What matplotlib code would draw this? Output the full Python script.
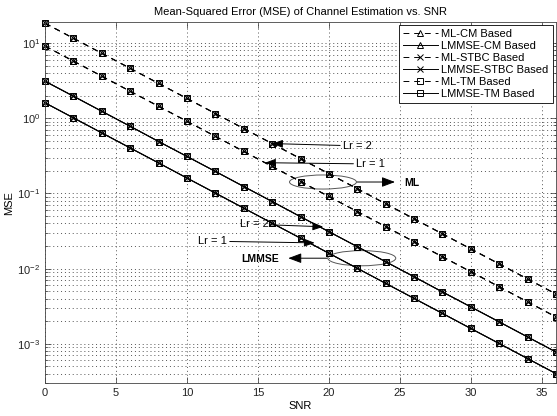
import matplotlib
matplotlib.use("Agg")
import matplotlib.pyplot as plt
from matplotlib.patches import Ellipse
from matplotlib.ticker import LogLocator, NullFormatter, LogFormatterMathtext

plt.rcParams['font.family'] = ['Liberation Sans', 'DejaVu Sans']
plt.rcParams['mathtext.fontset'] = 'custom'
plt.rcParams['mathtext.rm'] = 'Liberation Sans'
plt.rcParams['mathtext.default'] = 'regular'

# SNR in dB
snr = [0, 2, 4, 6, 8, 10, 12, 14, 16, 18, 20, 22, 24, 26, 28, 30, 32, 34, 36]

# MSE (the three schemes lie on top of each other)
ml_lr2 = [18.3, 11.55, 7.29, 4.60, 2.90, 1.83, 1.155, 0.729, 0.460, 0.290,
          0.183, 0.1155, 0.0729, 0.0460, 0.0290, 0.0183, 0.01155, 0.00729, 0.00460]
ml_lr1 = [9.1, 5.74, 3.62, 2.28, 1.44, 0.91, 0.574, 0.362, 0.228, 0.144,
          0.091, 0.0574, 0.0362, 0.0228, 0.0144, 0.0091, 0.00574, 0.00362, 0.00228]
lmmse_lr2 = [3.1, 1.96, 1.235, 0.78, 0.49, 0.31, 0.196, 0.1235, 0.078, 0.049,
             0.031, 0.0196, 0.01235, 0.0078, 0.0049, 0.0031, 0.00196, 0.001235, 0.00078]
lmmse_lr1 = [1.6, 1.01, 0.637, 0.402, 0.254, 0.16, 0.101, 0.0637, 0.0402, 0.0254,
             0.016, 0.0101, 0.00637, 0.00402, 0.00254, 0.0016, 0.00101, 0.000637, 0.000402]

schemes = ['CM', 'STBC', 'TM']
scheme_markers = ['^', 'x', 's']

fig = plt.figure(figsize=(5.57, 4.16), dpi=100)
ax = fig.add_axes([0.081, 0.079, 0.917, 0.868])

kw = dict(color='black', lw=0.7, markersize=4.5, markerfacecolor='none',
          markeredgewidth=0.7, clip_on=False)
dash = (6, 5)

# legend entries first (Lr = 2), then Lr = 1 copies
for sc, mk in zip(schemes, scheme_markers):
    ax.semilogy(snr, ml_lr2, ls=(0, dash), marker=mk, label='ML-' + sc + ' Based', **kw)
    ax.semilogy(snr, lmmse_lr2, ls='-', marker=mk, label='LMMSE-' + sc + ' Based', **kw)
for sc, mk in zip(schemes, scheme_markers):
    ax.semilogy(snr, ml_lr1, ls=(0, dash), marker=mk, **kw)
    ax.semilogy(snr, lmmse_lr1, ls='-', marker=mk, **kw)

ax.set_xlim(0, 36)
ax.set_ylim(3e-4, 19)
ax.set_xticks([0, 5, 10, 15, 20, 25, 30, 35])
ax.yaxis.set_major_locator(LogLocator(base=10))
ax.yaxis.set_minor_locator(LogLocator(base=10, subs=range(2, 10)))
ax.yaxis.set_major_formatter(LogFormatterMathtext())
ax.yaxis.set_minor_formatter(NullFormatter())

grid_kw = dict(ls=(0, (1, 3)), lw=0.7, color='#555555')
ax.grid(True, which='major', **grid_kw)
ax.grid(True, which='minor', axis='y', **grid_kw)
ax.tick_params(which='both', direction='in', top=True, right=True,
               labelsize=8, width=0.5, color='#333333', labelcolor='#222222')
ax.tick_params(which='major', length=4)
ax.tick_params(which='minor', length=2)
for s in ax.spines.values():
    s.set_linewidth(0.6)
    s.set_color('#444444')

ax.set_title('Mean-Squared Error (MSE) of Channel Estimation vs. SNR', fontsize=8, pad=5)
ax.set_xlabel('SNR', fontsize=8, labelpad=2)
ax.set_ylabel('MSE', fontsize=8, labelpad=2)

leg = ax.legend(loc='upper right', fontsize=8, fancybox=False, framealpha=1,
                edgecolor='black', handlelength=3.2, labelspacing=0.18,
                borderpad=0.35, handletextpad=0.3, borderaxespad=0.3)
leg.get_frame().set_linewidth(0.6)

arrow = dict(arrowstyle='-|>,head_length=0.8,head_width=0.3', color='black', lw=0.7,
             shrinkA=0, shrinkB=0)

# Lr labels pointing at the curves
ax.annotate('Lr = 2', xy=(16, 0.46), xytext=(0.583, 0.657), textcoords='axes fraction',
            fontsize=8, va='center', ha='left', arrowprops=arrow)
ax.annotate('Lr = 1', xy=(15.5, 0.256), xytext=(0.609, 0.607), textcoords='axes fraction',
            fontsize=8, va='center', ha='left', arrowprops=arrow)
ax.annotate('Lr = 2', xy=(19.6, 0.036), xytext=(0.438, 0.44), textcoords='axes fraction',
            fontsize=8, va='center', ha='right', arrowprops=arrow)
ax.annotate('Lr = 1', xy=(19.0, 0.022), xytext=(0.356, 0.393), textcoords='axes fraction',
            fontsize=8, va='center', ha='right', arrowprops=arrow)

# ellipses with ML / LMMSE labels
ax.add_patch(Ellipse((0.544, 0.557), 0.131, 0.039, transform=ax.transAxes,
                     fill=False, ec='#555555', lw=0.7))
ax.annotate('', xy=(0.685, 0.557), xytext=(0.611, 0.557), xycoords='axes fraction',
            arrowprops=arrow)
ax.text(0.703, 0.554, 'ML', transform=ax.transAxes, fontsize=7.5, weight='bold',
        va='center', ha='left')

ax.add_patch(Ellipse((0.620, 0.346), 0.133, 0.042, transform=ax.transAxes,
                     fill=False, ec='#555555', lw=0.7))
ax.annotate('', xy=(0.476, 0.346), xytext=(0.552, 0.346), xycoords='axes fraction',
            arrowprops=arrow)
ax.text(0.458, 0.343, 'LMMSE', transform=ax.transAxes, fontsize=7.5, weight='bold',
        va='center', ha='right')

fig.savefig('out.png', dpi=100)
